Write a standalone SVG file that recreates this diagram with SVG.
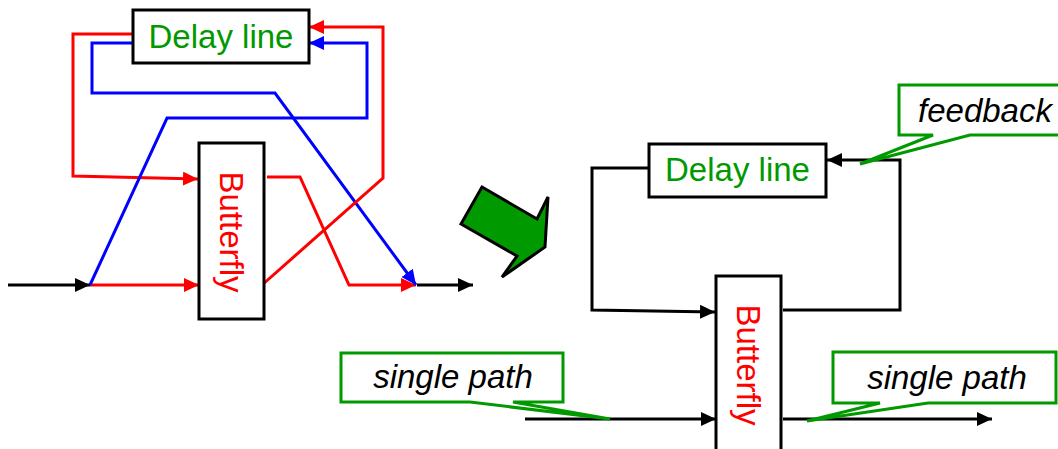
<svg xmlns="http://www.w3.org/2000/svg" width="1058" height="449" viewBox="0 0 1058 449">
  <style>
    .box { fill: #ffffff; stroke: #000000; stroke-width: 3; }
    .lbl { font-family: "Liberation Sans", Arial, sans-serif; font-size: 33px; text-anchor: middle; }
    .green { fill: #009900; }
    .red { fill: #ff0000; }
    .note { fill: #000000; font-style: italic; }
    .wire { fill: none; stroke-width: 3; stroke-linejoin: miter; }
    .k { stroke: #000000; }
    .r { stroke: #ff0000; }
    .b { stroke: #0000ff; }
    .callout { fill: #ffffff; stroke: #009900; stroke-width: 3; stroke-linejoin: miter; }
  </style>
  <defs>
    <marker id="ahK" markerUnits="userSpaceOnUse" markerWidth="16" markerHeight="15" refX="15" refY="7" orient="auto">
      <path d="M0,0 L15,7 L0,14 z" fill="#000000"/>
    </marker>
    <marker id="ahR" markerUnits="userSpaceOnUse" markerWidth="16" markerHeight="15" refX="15" refY="7" orient="auto">
      <path d="M0,0 L15,7 L0,14 z" fill="#ff0000"/>
    </marker>
    <marker id="ahB" markerUnits="userSpaceOnUse" markerWidth="16" markerHeight="15" refX="15" refY="7" orient="auto">
      <path d="M0,0 L15,7 L0,14 z" fill="#0000ff"/>
    </marker>
  </defs>

  <rect width="1058" height="449" fill="#ffffff"/>

  <!-- Left: two-path structure -->
  <g id="connectors-left">
    <path class="wire k" d="M8,285 L90,285" marker-end="url(#ahK)"/>
    <path class="wire k" d="M417,285 L473,285" marker-end="url(#ahK)"/>
    <path class="wire r" d="M90,285 L199,285" marker-end="url(#ahR)"/>
    <path class="wire r" d="M133,34 L73,34 L73,176 L198,179" marker-end="url(#ahR)"/>
    <path class="wire r" d="M267,177 L300,177 L349,285 L416,285" marker-end="url(#ahR)"/>
    <path class="wire b" d="M133,43 L92,43 L92,93 L275,93 L416,285" marker-end="url(#ahB)"/>
    <path class="wire b" d="M90,285 L167,118 L367,118 L367,43 L309,43" marker-end="url(#ahB)"/>
    <path class="wire r" d="M262,285 L383,178 L383,27 L309,27" marker-end="url(#ahR)"/>
  </g>

  <g id="delay-left">
    <rect class="box" x="133" y="10" width="176" height="53"/>
    <text class="lbl green" x="221" y="48">Delay line</text>
  </g>

  <g id="butterfly-left">
    <rect class="box" x="199" y="143" width="65" height="176"/>
    <text class="lbl red" transform="translate(220,232) rotate(90)">Butterfly</text>
  </g>

  <!-- Transition arrow -->
  <g id="transform-arrow">
    <polygon points="461,224 482,187 537,219 548,197 545,247 502,277 517,256" fill="#009900" stroke="#000000" stroke-width="3" stroke-linejoin="miter"/>
  </g>

  <!-- Right: single-path structure -->
  <g id="connectors-right">
    <path class="wire k" d="M649,168 L592,168 L592,310 L715,312" marker-end="url(#ahK)"/>
    <path class="wire k" d="M783,310 L900,310 L900,160 L827,160" marker-end="url(#ahK)"/>
    <path class="wire k" d="M525,419 L716,419" marker-end="url(#ahK)"/>
    <path class="wire k" d="M783,419 L992,419" marker-end="url(#ahK)"/>
  </g>

  <g id="delay-right">
    <rect class="box" x="649" y="144" width="177" height="53"/>
    <text class="lbl green" x="737.5" y="181">Delay line</text>
  </g>

  <g id="butterfly-right">
    <rect class="box" x="716" y="276" width="65" height="190"/>
    <text class="lbl red" transform="translate(737,365) rotate(90)">Butterfly</text>
  </g>

  <!-- Callouts -->
  <g id="callout-feedback">
    <path class="callout" d="M899,85 L1072,85 L1072,135 L970,135 L860,164 L933,135 L899,135 z"/>
    <text class="lbl note" x="985" y="122">feedback</text>
  </g>

  <g id="callout-input">
    <path class="callout" d="M341,353 L563,353 L563,402 L513,402 L610,419 L470,402 L341,402 z"/>
    <text class="lbl note" x="453" y="388">single path</text>
  </g>

  <g id="callout-output">
    <path class="callout" d="M833,352 L1056,352 L1056,403 L928,403 L807,421 L880,403 L833,403 z"/>
    <text class="lbl note" x="947" y="389">single path</text>
  </g>
</svg>
